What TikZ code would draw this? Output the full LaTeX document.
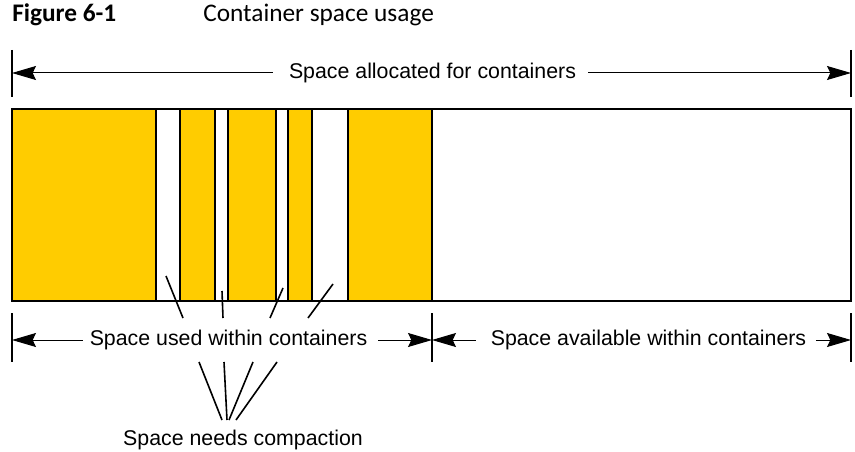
\documentclass[tikz,border=0pt]{standalone}
\usepackage{fontspec}
\setmainfont{Liberation Sans}
\newfontfamily\captionfont{Carlito}
\usetikzlibrary{arrows.meta}
\definecolor{usedyellow}{HTML}{FFCC00}
\begin{document}
\begin{tikzpicture}[x=0.75pt,y=-0.75pt,
  lbl/.style={font=\fontsize{16}{19}\selectfont, inner sep=0pt},
  dim/.style={line width=0.75pt, -{Stealth[length=18pt,width=10.5pt,inset=2.5pt]}},
  tick/.style={line width=1.3pt},
  seg/.style={line width=1.2pt},
  callout/.style={line width=1.2pt}]
\useasboundingbox (0,0) rectangle (855,452);

% caption
\node[anchor=west, inner sep=0pt, font=\captionfont\bfseries\fontsize{19}{23}\selectfont] (fignum) at (12,15) {Figure 6-1};
\node[anchor=west, inner sep=0pt, font=\captionfont\fontsize{19}{23}\selectfont] (figcap) at (203,15) {Container space usage};

% container bar: used blocks, gaps and free space
\foreach \a/\b in {12/156,180/215,228/276,288/312,348/432}
  \fill[usedyellow] (\a,109) rectangle (\b,301);
\draw[seg] (12,109) rectangle (851,301);
\foreach \x in {156,180,215,228,276,288,312,348,432}
  \draw[seg] (\x,109) -- (\x,301);

% extent ticks
\coordinate (tA1) at (12,50);  \coordinate (tA2) at (12,97);
\coordinate (tB1) at (851,50); \coordinate (tB2) at (851,97);
\draw[tick] (tA1) -- (tA2);
\draw[tick] (tB1) -- (tB2);
\foreach \x/\n in {12/l,432/m,851/r}{
  \coordinate (b\n1) at (\x,313); \coordinate (b\n2) at (\x,362);
  \draw[tick] (b\n1) -- (b\n2);
}

% dimension arrows and labels
\node[lbl] (alloc) at (432.5,73) {Space allocated for containers};
\coordinate (allocL) at (12,73); \coordinate (allocR) at (851,73);
\draw[dim] ([xshift=-12pt]alloc.west) -- (allocL);
\draw[dim] ([xshift=9pt]alloc.east) -- (allocR);

\node[lbl] (used) at (228.5,340) {Space used within containers};
\coordinate (usedL) at (12,340); \coordinate (usedR) at (432,340);
\draw[dim] ([xshift=-5pt]used.west) -- (usedL);
\draw[dim] ([xshift=8pt]used.east) -- (usedR);

\node[lbl] (avail) at (648.5,340) {Space available within containers};
\coordinate (availL) at (432,340); \coordinate (availR) at (851,340);
\draw[dim] ([xshift=-11pt]avail.west) -- (availL);
\draw[dim] ([xshift=7pt]avail.east) -- (availR);

\node[lbl] (compact) at (243,440) {Space needs compaction};

% callouts from the gaps
\coordinate (g1) at (166,276); \coordinate (u1) at (183,318);
\coordinate (g2) at (222,291); \coordinate (u2) at (223,318);
\coordinate (g3) at (283,288); \coordinate (u3) at (270,318);
\coordinate (g4) at (333,284); \coordinate (u4) at (308,318);
\foreach \i in {1,...,4} \draw[callout] (g\i) -- (u\i);

\coordinate (d1) at (199,362); \coordinate (c1) at (222,420);
\coordinate (d2) at (224,362); \coordinate (c2) at (227,420);
\coordinate (d3) at (253,362); \coordinate (c3) at (229,420);
\coordinate (d4) at (277,362); \coordinate (c4) at (236,420);
\foreach \i in {1,...,4} \draw[callout] (d\i) -- (c\i);
\end{tikzpicture}
\end{document}
